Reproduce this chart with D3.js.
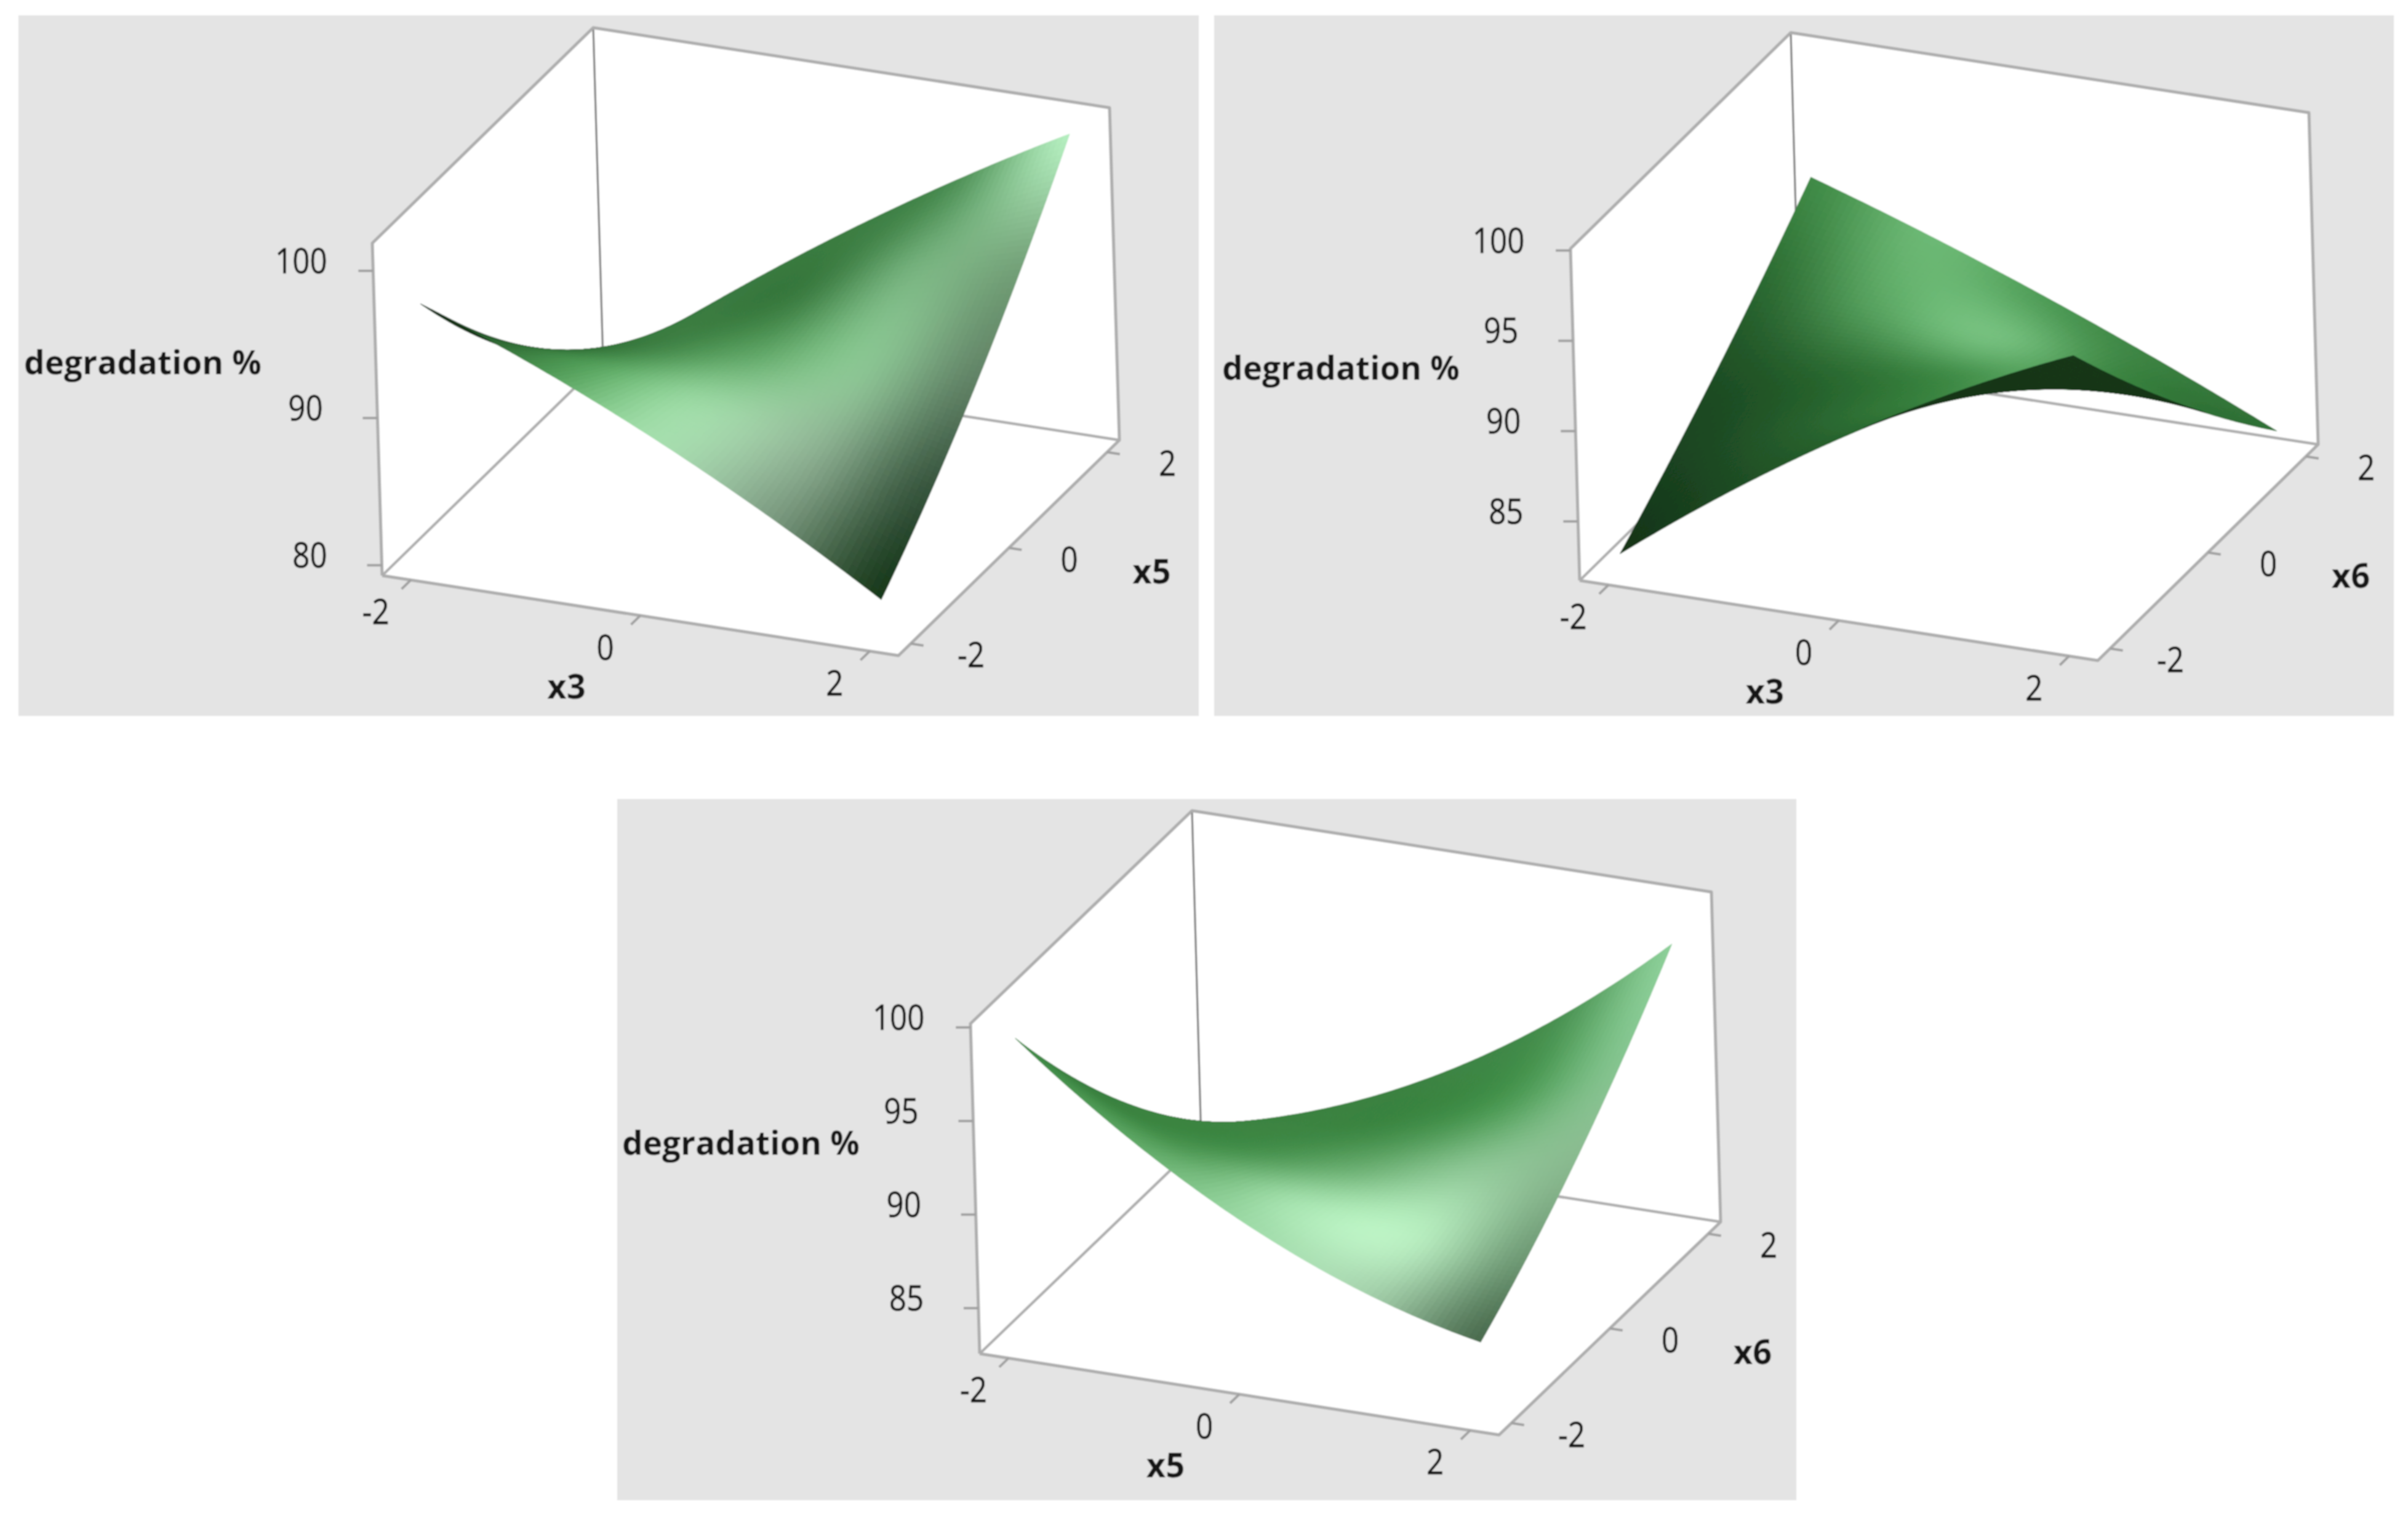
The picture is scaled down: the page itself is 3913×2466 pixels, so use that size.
<!DOCTYPE html>
<html><head><meta charset="utf-8">
<script src="https://cdn.jsdelivr.net/npm/d3@7/dist/d3.min.js"></script>
<style>html,body{margin:0;padding:0;background:#fff}svg{display:block}text{font-family:"Open Sans",sans-serif;fill:#141414}</style>
</head><body><div id="chart"></div>
<script>
// ---- values ----
const factorTicks = [-2, 0, 2];
const responseTicksA = [80, 90, 100];
const responseTicksB = [85, 90, 95, 100];
const responseTitle = "degradation %";

// response at factor levels -2, 0, 2 (rows: depth factor -2, 0, 2; columns: front factor -2, 0, 2)
const responseX3X5 = [[97.3, 90.7, 82.0], [87.5, 89.85, 90.1], [80.8, 91.6, 100.6]];
const responseX3X6 = [[82.8, 91.3, 97.7], [87.5, 89.3, 89.8], [93.0, 88.4, 82.9]];
const responseX5X6 = [[99.05, 90.95, 86.66], [90.7, 89.07, 91.4], [84.4, 89.1, 97.8]];

// surface colours at levels -2,-1,0,1,2
const shadeX3X5 = [
 ["#143018","#4a9250","#a4deac","#7f9f84","#17381a"],
 ["#1f4f25","#4f9a56","#98d6a0","#8fb594","#34523a"],
 ["#2a6630","#3e8044","#5da364","#8ac592","#5f8064"],
 ["#357a3b","#3c7d42","#3c7d42","#78b480","#75a37a"],
 ["#3c7d42","#3a7a40","#3c7d42","#4f9157","#b5efc0"]];
const shadeX3X6 = [
 ["#143418","#1f4d24","#2a6630","#3f8745","#4f9a56"],
 ["#1a4220","#265c2c","#347a3a","#468f4d","#49934f"],
 ["#1f4f25","#2b6a31","#3f8a46","#5aa561","#3a8040"],
 ["#2c6b32","#5aa562","#74bf7d","#3f8845","#2f7036"],
 ["#3f8a46","#6cb874","#4f9c57","#3b8141","#2f7036"]];
const shadeX5X6 = [
 ["#3f8a46","#5fa866","#9fdba8","#a5d2ac","#4a6b4e"],
 ["#3a8040","#4c9652","#a3e0ac","#b8eec0","#6f9a75"],
 ["#3d8443","#3f8a46","#66ab6d","#8ec896","#89ba8f"],
 ["#3d8543","#3d8543","#3d8844","#4d9a55","#85c590"],
 ["#3d8543","#3b8242","#3d8444","#4a9252","#8ccf98"]];

// ---- layout ----
const W = 3913, H = 2466;
const panels = [
 {rect:[30,25,1948,1163], L:[621,935], F:[1460,1065], R:[1819,715], T:[605,395], zDomain:[79.3,101.88], uLow:-2.3,
  xName:"x3", yName:"x5", zTicks:responseTicksA, z:responseX3X5, shade:shadeX3X5, under:"#15331a"},
 {rect:[1973,25,3890,1163], L:[2567,943], F:[3409,1073], R:[3767,722], T:[2552,404], zDomain:[81.73,100.1], uLow:-2.25,
  xName:"x3", yName:"x6", zTicks:responseTicksB, z:responseX3X6, shade:shadeX3X6, under:"#15371a"},
 {rect:[1003,1298,2919,2437], L:[1592,2199], F:[2436,2331], R:[2796,1985], T:[1577,1663], zDomain:[82.57,100.2], uLow:-2.28,
  xName:"x5", yName:"x6", zTicks:responseTicksB, z:responseX5X6, shade:shadeX5X6, under:"#1a3a1f"}
];
const MESH = 80;

const svg = d3.select("#chart").append("svg").attr("width",W).attr("height",H).attr("viewBox",[0,0,W,H]);
svg.append("rect").attr("width",W).attr("height",H).attr("fill","#fff");
const defs = svg.append("defs");
defs.append("filter").attr("id","soft").attr("filterUnits","userSpaceOnUse")
  .attr("x",0).attr("y",0).attr("width",W).attr("height",H)
  .append("feGaussianBlur").attr("stdDeviation",1.3);

const levelFrac = d3.scaleLinear().domain([-2.25,2.25]).range([0,1]);
const pathLine = d3.line();

function lagrange3(t){ // basis on nodes -2,0,2
  return [t*(t-2)/8, (4-t*t)/4, t*(t+2)/8];
}
function catmull(p0,p1,p2,p3,t){
  return 0.5*((2*p1)+(-p0+p2)*t+(2*p0-5*p1+4*p2-p3)*t*t+(-p0+3*p1-3*p2+p3)*t*t*t);
}

panels.forEach(p=>{
  const g = svg.append("g").attr("filter","url(#soft)");
  const [x0,y0,x1,y1] = p.rect;
  g.append("rect").attr("x",x0).attr("y",y0).attr("width",x1-x0).attr("height",y1-y0).attr("fill","#e4e4e4");

  const zFrac = d3.scaleLinear().domain(p.zDomain).range([0,1]);
  const uFrac = d3.scaleLinear().domain([p.uLow,2.25]).range([0,1]);
  const A=[p.F[0]-p.L[0],p.F[1]-p.L[1]], B=[p.R[0]-p.F[0],p.R[1]-p.F[1]], C=[p.T[0]-p.L[0],p.T[1]-p.L[1]];
  const proj=(a,b,c)=>[p.L[0]+a*A[0]+b*B[0]+c*C[0], p.L[1]+a*A[1]+b*B[1]+c*C[1]];
  const project=(u,v,z)=>proj(uFrac(u),levelFrac(v),zFrac(z));

  // view direction
  let n=[B[0]*C[1]-C[0]*B[1], C[0]*A[1]-A[0]*C[1], A[0]*B[1]-B[0]*A[1]];
  if(n[2]<0) n=n.map(d=>-d);

  const surf=(u,v)=>{
    const bu=lagrange3(u), bv=lagrange3(v);
    let s=0; for(let i=0;i<3;i++)for(let j=0;j<3;j++) s+=bv[i]*bu[j]*p.z[i][j];
    return s;
  };
  const rgb=p.shade.map(r=>r.map(h=>d3.rgb(h)));
  const shadeAt=(u,v)=>{
    const fu=Math.min(3.9999,u+2), fv=Math.min(3.9999,v+2);
    const iu=Math.floor(fu), iv=Math.floor(fv), tu=fu-iu, tv=fv-iv;
    const get=(r,c,ch)=>rgb[Math.max(0,Math.min(4,r))][Math.max(0,Math.min(4,c))][ch];
    const out=["r","g","b"].map(ch=>{
      const rows=[-1,0,1,2].map(dr=>catmull(get(iv+dr,iu-1,ch),get(iv+dr,iu,ch),get(iv+dr,iu+1,ch),get(iv+dr,iu+2,ch),tu));
      return Math.max(0,Math.min(255,catmull(rows[0],rows[1],rows[2],rows[3],tv)));
    });
    return d3.rgb(out[0],out[1],out[2]).formatHex();
  };

  // box
  const box=[proj(0,0,1),proj(0,1,1),proj(1,1,1),proj(1,1,0),proj(1,0,0),proj(0,0,0)];
  g.append("path").attr("d",pathLine(box)+"Z").attr("fill","#fff");
  const backFloor=[proj(0,0,0),proj(0,1,0),proj(1,1,0)];
  g.append("path").attr("d",pathLine(backFloor)).attr("fill","none").attr("stroke","#aeaeae").attr("stroke-width",4.5);
  g.append("path").attr("d",pathLine([proj(0,1,0),proj(0,1,1)])).attr("fill","none").attr("stroke","#7d7d7d").attr("stroke-width",3.2);

  // surface mesh
  const du=4/MESH, cells=[];
  const uSplit=d3.range(MESH).map(i=>-2+i*du);
  uSplit.forEach(u=>uSplit.forEach(v=>{
    const corners=[[u,v],[u+du,v],[u+du,v+du],[u,v+du]];
    const pts=corners.map(c=>project(c[0],c[1],surf(c[0],c[1])).map(d=>+d.toFixed(2)));
    const um=u+du/2, vm=v+du/2, zm=surf(um,vm);
    const depth=n[0]*uFrac(um)+n[1]*levelFrac(vm)+n[2]*zFrac(zm);
    let area=0; for(let i=0;i<4;i++){const q=pts[i],r=pts[(i+1)%4]; area+=q[0]*r[1]-r[0]*q[1];}
    const flipped=area>0; // floor winding L->F->R is negative in screen coordinates
    cells.push({pts,depth,color:flipped?p.under:shadeAt(um,vm)});
  }));
  cells.sort((a,b)=>d3.ascending(a.depth,b.depth));
  g.append("g").selectAll("path").data(cells).join("path")
    .attr("d",d=>pathLine(d.pts)+"Z")
    .attr("fill",d=>d.color).attr("stroke",d=>d.color).attr("stroke-width",1.1).attr("stroke-linejoin","round");

  // front frame
  const frame=[proj(0,0,0),proj(0,0,1),proj(0,1,1),proj(1,1,1),proj(1,1,0),proj(1,0,0),proj(0,0,0)];
  g.append("path").attr("d",pathLine(frame)).attr("fill","none").attr("stroke","#adadad").attr("stroke-width",5).attr("stroke-linejoin","round");

  // ticks and labels
  const txt=(x,y,s,weight,size,sx)=>g.append("text").attr("transform",`translate(${x},${y}) scale(${sx},1)`)
     .attr("text-anchor","middle").attr("dominant-baseline","central").attr("stroke","#141414").attr("stroke-width",weight<500?0.7:0)
     .attr("font-size",size).attr("font-weight",weight).text(s);
  const tick=(a,b)=>g.append("path").attr("d",pathLine([a,b])).attr("fill","none").attr("stroke","#a0a0a0").attr("stroke-width",4);
  const bLen=Math.hypot(B[0],B[1]), aLen=Math.hypot(A[0],A[1]);
  factorTicks.forEach(t=>{
    const a=proj(levelFrac(t),0,0);
    tick(a,[a[0]-B[0]/bLen*21,a[1]-B[1]/bLen*21]);
    txt(a[0]-57,a[1]+50,String(t),400,56,0.88);
    const b=proj(1,levelFrac(t),0);
    tick(b,[b[0]+A[0]/aLen*21,b[1]+A[1]/aLen*21]);
    txt(b[0]+98,b[1]+17,String(t),400,56,0.88);
  });
  p.zTicks.forEach(t=>{
    const a=proj(0,0,zFrac(t));
    tick(a,[a[0]-24,a[1]]);
    txt(a[0]-117,a[1]-18,String(t),400,56,0.88);
  });
  const mid=proj(levelFrac(0),0,0), midR=proj(1,levelFrac(0),0);
  txt(mid[0]-120,mid[1]+113,p.xName,700,56,0.97);
  txt(midR[0]+232,midR[1]+36,p.yName,700,56,0.97);
  txt(p.T[0]-373,p.T[1]+192,responseTitle,700,54,0.985);
});
</script></body></html>
